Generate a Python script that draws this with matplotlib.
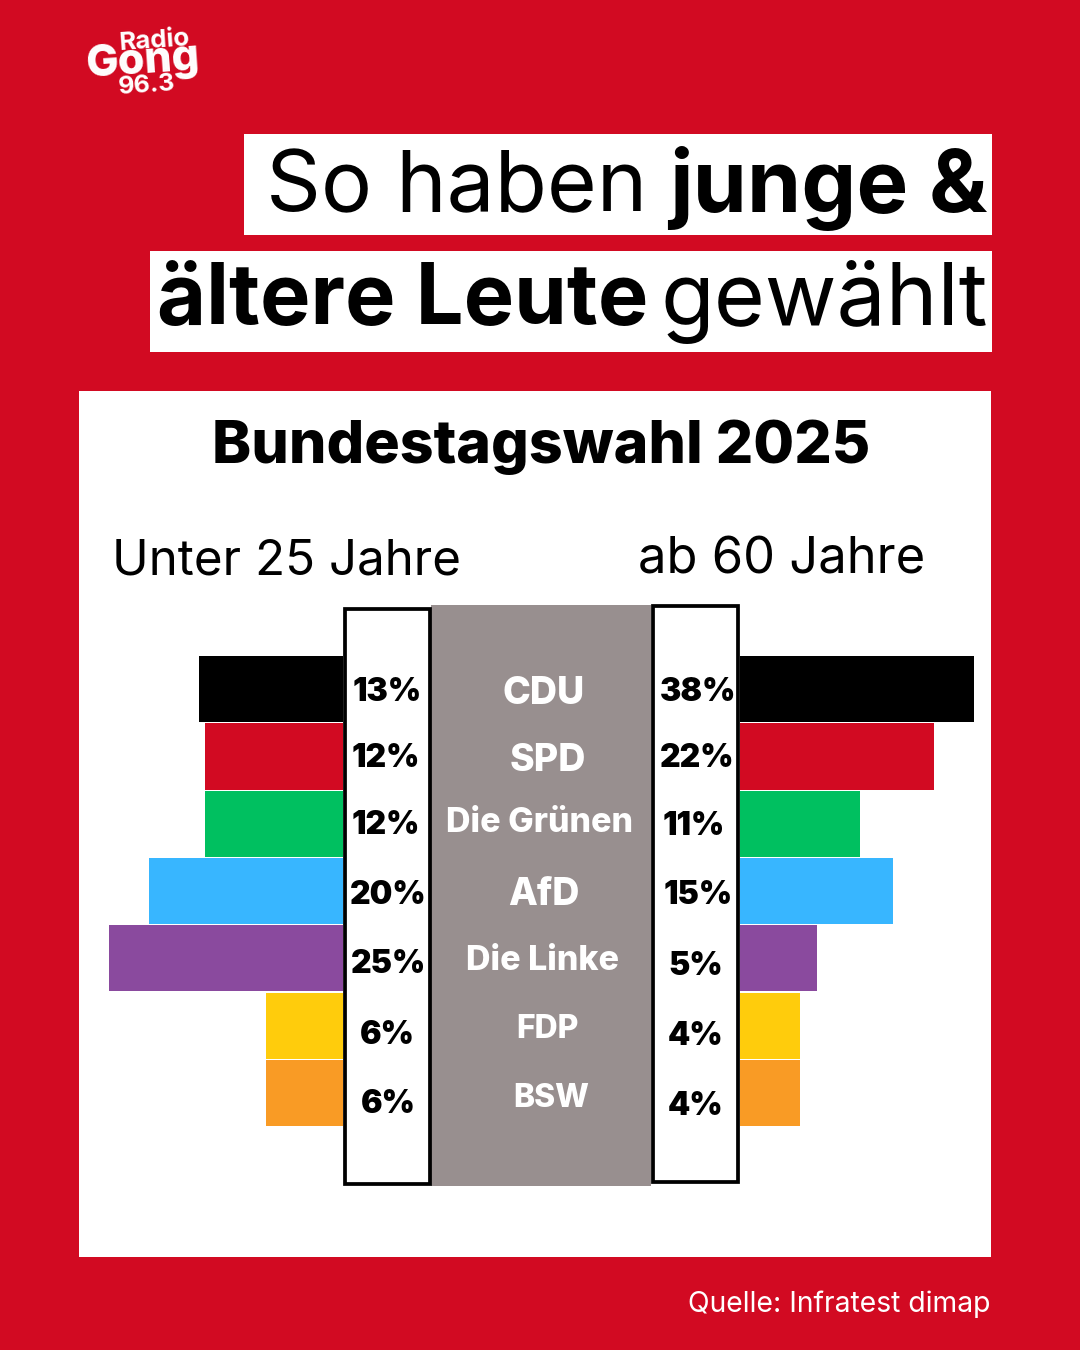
import matplotlib
matplotlib.use('Agg')
import matplotlib.pyplot as plt
from matplotlib.patches import Rectangle

W, H = 1080, 1350

parties = ['CDU', 'SPD', 'Die Grünen', 'AfD', 'Die Linke', 'FDP', 'BSW']
young_labels = ['13%', '12%', '12%', '20%', '25%', '6%', '6%']
old_labels = ['38%', '22%', '11%', '15%', '5%', '4%', '4%']
# bar lengths as drawn in the graphic (not proportional to the labels)
young_bars = [144, 138, 138, 194, 234, 77, 77]
old_bars = [234, 194, 120, 153, 77, 60, 60]
colors = ['#000000', '#d20a22', '#00c060', '#38b6ff', '#8a4a9e', '#ffcc0c', '#f99b25']

# text y positions differ a bit per row in the original
young_y = [689, 755, 822, 892, 961, 1032, 1101]
old_y = [689, 755, 823, 892, 963, 1033, 1103]
party_y = [690, 757, 820, 891, 958, 1026, 1095]
young_x = [387, 386, 386, 388, 389, 387, 388]
old_x = [698, 697, 694, 698, 696, 696, 696]
party_x = [544, 548, 540, 544, 542, 547, 551]
party_size = [27, 27, 24.5, 27, 24.5, 23, 23]

RED = '#d20a22'
SANS = 'Inter'

fig = plt.figure(figsize=(W / 100, H / 100), dpi=100, facecolor=RED)

# full canvas in pixel coordinates for the poster layout
bg = fig.add_axes([0, 0, 1, 1])
bg.set_xlim(0, W)
bg.set_ylim(H, 0)
bg.axis('off')


def box(x0, y0, x1, y1, fc='white', ec='none', lw=0, z=1):
    bg.add_patch(Rectangle((x0, y0), x1 - x0, y1 - y0, fc=fc, ec=ec, lw=lw, zorder=z))


# y is the middle of the capitals, so descenders do not move the line
def txt(x, y, s, size, weight='normal', color='black', ha='center', **kw):
    return bg.text(x, y + size * 0.505, s, fontsize=size, fontweight=weight, color=color,
                   ha=ha, va='baseline', family=SANS, zorder=6, **kw)


# headline
box(244, 134, 992, 235)
box(150, 251, 992, 352)
txt(266, 180, 'So haben', 61.5, 'normal', ha='left')
txt(987, 180, 'junge &', 62.7, 'bold', ha='right')
txt(157, 293, 'ältere Leute', 61, 'bold', ha='left')
txt(988, 293, 'gewählt', 63, 'normal', ha='right')

# white card
box(79, 391, 991, 1257)
txt(541, 441.5, 'Bundestagswahl 2025', 42.5, 'heavy')
txt(287, 557, 'Unter 25 Jahre', 35.5, 'normal')
txt(782, 555, 'ab 60 Jahre', 36.5, 'normal')

# centre columns
box(431, 604.5, 651, 1186, fc='#988f8f', z=2)
box(344.7, 608.5, 429.7, 1184, fc='white', ec='black', lw=2.7, z=3)
box(653, 606, 738, 1182, fc='white', ec='black', lw=2.7, z=3)

# bars, one axes per side, same row scale
row_top = 655.5
row_h = 67.3
n = len(parties)
y_span = (H - (row_top + n * row_h)) / H
h_span = n * row_h / H

ax_l = fig.add_axes([0, y_span, 343 / W, h_span])
ax_l.barh(range(n), young_bars, height=0.985, color=colors, linewidth=0)
ax_l.set_xlim(343, 0)
ax_l.set_ylim(n - 0.5, -0.5)
ax_l.axis('off')

ax_r = fig.add_axes([740 / W, y_span, (W - 740) / W, h_span])
ax_r.barh(range(n), old_bars, height=0.985, color=colors, linewidth=0)
ax_r.set_xlim(0, W - 740)
ax_r.set_ylim(n - 0.5, -0.5)
ax_r.axis('off')

for i in range(n):
    txt(young_x[i], young_y[i], young_labels[i], 23, 'black')
    txt(old_x[i], old_y[i], old_labels[i], 23, 'black')
    txt(party_x[i], party_y[i], parties[i], party_size[i], 'heavy', color='white')

# station logo
txt(155, 38, 'Radio', 18.5, 'bold', color='white', rotation=4, rotation_mode='anchor')
txt(143, 57, 'Gong', 31, 'heavy', color='white', rotation=4, rotation_mode='anchor')
txt(147, 83, '96.3', 18, 'bold', color='white', rotation=4, rotation_mode='anchor')

# source
txt(990, 1302, 'Quelle: Infratest dimap', 20.4, 'normal', color='white', ha='right')

fig.savefig('out.png', dpi=100, facecolor=RED)
